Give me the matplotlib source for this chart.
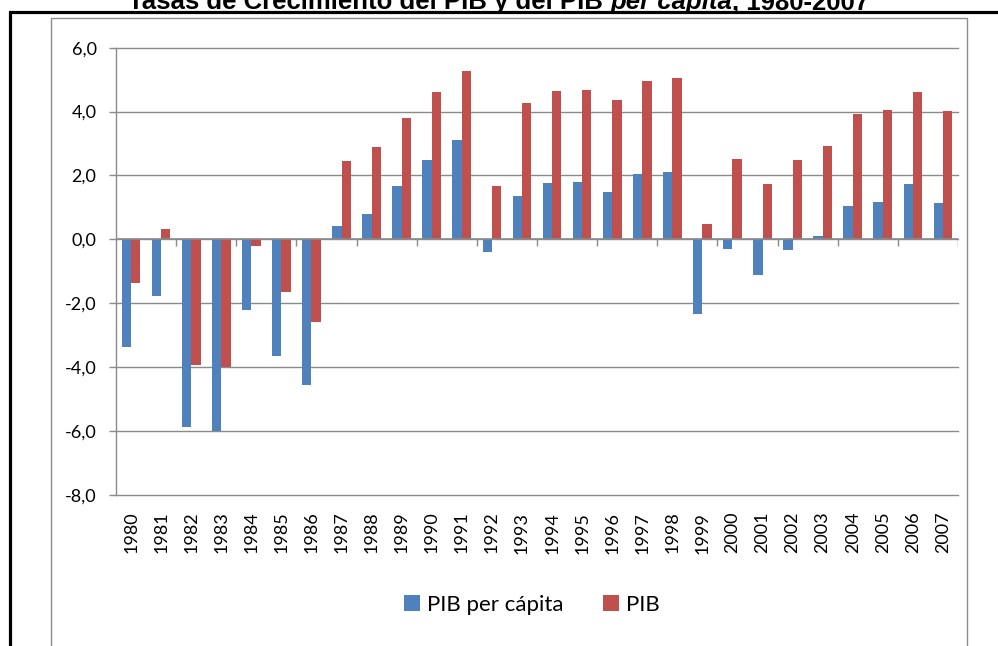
import numpy as np
import matplotlib.pyplot as plt
from matplotlib.patches import Rectangle

years = list(range(1980, 2008))
pib_pc = [-3.36, -1.77, -5.87, -6.00, -2.21, -3.66, -4.57, 0.41, 0.81, 1.68,
          2.50, 3.12, -0.40, 1.37, 1.78, 1.81, 1.47, 2.06, 2.12, -2.33,
          -0.30, -1.11, -0.33, 0.12, 1.06, 1.18, 1.74, 1.15]
pib = [-1.38, 0.31, -3.92, -4.00, -0.21, -1.66, -2.57, 2.46, 2.90, 3.80,
       4.62, 5.27, 1.68, 4.28, 4.65, 4.68, 4.37, 4.96, 5.05, 0.47,
       2.53, 1.72, 2.50, 2.93, 3.93, 4.05, 4.62, 4.02]
yticks = [-8, -6, -4, -2, 0, 2, 4, 6]

W, H = 998, 646
fig = plt.figure(figsize=(W / 100, H / 100), dpi=100)
fig.patch.set_facecolor("white")

# frames: black outer box and grey chart-area box (both run off the image)
fig.patches.append(Rectangle((10 / W, -0.1), 1.2, 1 - 12 / H + 0.1, transform=fig.transFigure,
                             fill=False, edgecolor="black", linewidth=2.3))
fig.patches.append(Rectangle((51 / W, -0.1), (967 - 51) / W, 1 - 18 / H + 0.1,
                             transform=fig.transFigure, fill=False,
                             edgecolor="#8c8c8c", linewidth=1.0))

ax = fig.add_axes([116 / W, 1 - 495 / H, (958 - 116) / W, (495 - 47.7) / H])
grid_c = "#8a8a8a"
font = "Lato"

x = np.arange(len(years))
bw = 0.31
b1 = ax.bar(x - bw / 2, pib_pc, bw, color="#4F81BD", label="PIB per cápita", zorder=2)
b2 = ax.bar(x + bw / 2, pib, bw, color="#C0504D", label="PIB", zorder=2)

ax.set_xlim(-0.5, len(years) - 0.5)
ax.set_ylim(-8, 6)
ax.set_yticks(yticks)
ax.set_yticklabels([f"{v:.1f}".replace(".", ",") for v in yticks],
                   fontsize=13, fontfamily=font)
ax.yaxis.grid(True, color=grid_c, linewidth=1.0, zorder=1)
for gl in ax.get_ygridlines():
    gl.set_clip_on(False)
ax.tick_params(axis="y", length=5, width=1.0, color=grid_c, pad=9)

ax.set_xticks(x)
ax.set_xticklabels([str(y) for y in years], rotation=90, fontsize=13, fontfamily=font)
ax.tick_params(axis="x", length=0, pad=12)

for s in ["top", "right", "bottom"]:
    ax.spines[s].set_visible(False)
ax.spines["left"].set_color(grid_c)
ax.spines["left"].set_linewidth(1.0)

# category axis drawn at zero with ticks every second category
ax.axhline(0, color=grid_c, linewidth=1.2, zorder=3)
ax.vlines(np.arange(1.5, len(years), 2), -0.22, 0, color=grid_c, linewidth=1.0, zorder=3)

fig.legend(handles=[b1, b2], loc="center", bbox_to_anchor=(532 / W, 1 - 605 / H),
           ncol=2, frameon=False, prop={"family": font, "size": 16},
           handlelength=0.72, handleheight=0.72, handletextpad=0.32, columnspacing=1.75)

# title with italic "per cápita"
parts = [("Tasas de Crecimiento del PIB y del PIB ", "normal"),
         ("per cápita", "italic"),
         (", 1980-2007", "normal")]
texts = [fig.text(0, 1 - 9.5 / H, t, fontsize=18.5, fontweight="bold", style=st,
                  fontfamily="Liberation Sans", va="baseline", ha="left")
         for t, st in parts]
fig.canvas.draw()
r = fig.canvas.get_renderer()
widths = [t.get_window_extent(r).width for t in texts]
xpos = 499 - sum(widths) / 2
for t, w in zip(texts, widths):
    t.set_x(xpos / W)
    xpos += w

fig.savefig("out.png", dpi=100)
